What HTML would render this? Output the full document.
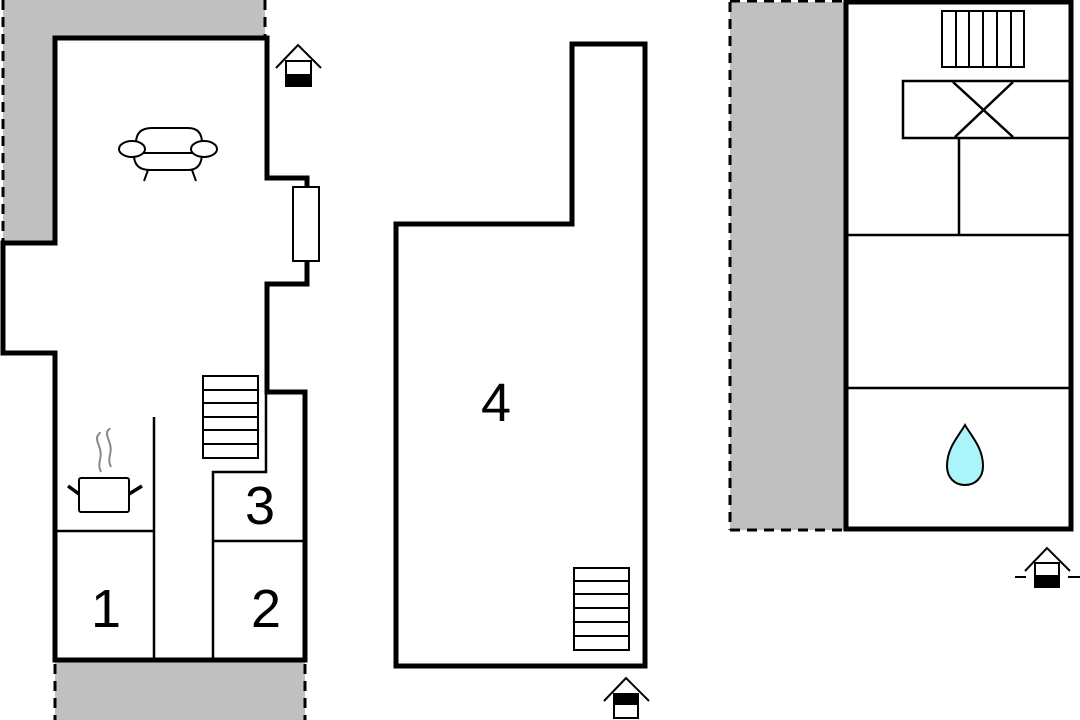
<!DOCTYPE html>
<html><head><meta charset="utf-8"><style>html,body{margin:0;padding:0;background:#fff;}svg{display:block;}</style></head>
<body>
<svg width="1080" height="720" viewBox="0 0 1080 720" xmlns="http://www.w3.org/2000/svg" font-family="Liberation Sans, sans-serif">
<rect width="1080" height="720" fill="#fff"/>
<!-- left building grey -->
<path d="M3 0 H265 V38 H55 V243 H3 Z" fill="#c0c0c0"/>
<line x1="3" y1="0" x2="3" y2="243" stroke="#000" stroke-width="3" stroke-dasharray="10,7"/>
<line x1="265" y1="0" x2="265" y2="36" stroke="#000" stroke-width="3" stroke-dasharray="10,7"/>
<rect x="55" y="662" width="250" height="58" fill="#c0c0c0"/>
<line x1="55" y1="664" x2="55" y2="720" stroke="#000" stroke-width="3" stroke-dasharray="10,7"/>
<line x1="305" y1="664" x2="305" y2="720" stroke="#000" stroke-width="3" stroke-dasharray="10,7"/>
<!-- left outline -->
<path d="M55 38 H267 V178 H307 V284 H267 V392 H305 V660 H55 V353 H3 V243 H55 Z" fill="none" stroke="#000" stroke-width="5" stroke-linejoin="miter"/>
<rect x="293" y="187" width="26" height="74" fill="#fff" stroke="#000" stroke-width="2"/>
<!-- interior walls -->
<g stroke="#000" stroke-width="2.5" fill="none">
<line x1="154" y1="417" x2="154" y2="660"/>
<line x1="55" y1="531" x2="154" y2="531"/>
<polyline points="266,392 266,472 213,472 213,660"/>
<line x1="213" y1="541" x2="305" y2="541"/>
</g>
<!-- stairs left -->
<g stroke="#000" stroke-width="2" fill="#fff">
<rect x="203" y="376" width="55" height="82"/>
<line x1="203" y1="390" x2="258" y2="390"/><line x1="203" y1="403" x2="258" y2="403"/><line x1="203" y1="417" x2="258" y2="417"/><line x1="203" y1="430" x2="258" y2="430"/><line x1="203" y1="444" x2="258" y2="444"/>
</g>
<!-- pot -->
<g stroke="#000" fill="none">
<rect x="79" y="478" width="50" height="34" rx="2" stroke-width="2" fill="#fff"/>
<line x1="68" y1="486" x2="79" y2="494" stroke-width="3.5"/>
<line x1="129" y1="494" x2="142" y2="486" stroke-width="3.5"/>
<path d="M101 472 C96 462,104 458,99 446 S100 435,100 432" stroke="#888" stroke-width="2"/>
<path d="M111 467 C106 457,114 453,109 441 S110 430,110 428" stroke="#888" stroke-width="2"/>
</g>
<!-- sofa -->
<g stroke="#000" stroke-width="2" fill="#fff">
<path d="M136 143 Q136 128 152 128 H188 Q202 128 202 143 V153 Q202 170 188 170 H150 Q134 170 134 155 Z"/>
<line x1="142" y1="153" x2="196" y2="153"/>
<ellipse cx="132" cy="149" rx="13" ry="8"/>
<ellipse cx="204" cy="149" rx="13" ry="8"/>
<line x1="148" y1="170" x2="144" y2="181"/>
<line x1="192" y1="170" x2="196" y2="181"/>
</g>
<!-- entrance top left -->
<g>
<polyline points="276,68 298,45 321,68" fill="none" stroke="#000" stroke-width="2"/>
<rect x="286" y="61" width="25" height="25" fill="#fff" stroke="#000" stroke-width="2"/>
<rect x="285" y="74" width="27" height="13" fill="#000"/>
</g>
<text x="106" y="627" font-size="54" text-anchor="middle">1</text>
<text x="266" y="627" font-size="54" text-anchor="middle">2</text>
<text x="260" y="524" font-size="54" text-anchor="middle">3</text>
<text x="496" y="421" font-size="54" text-anchor="middle">4</text>
<!-- middle building -->
<path d="M396 224 H572 V44 H645 V666 H396 Z" fill="none" stroke="#000" stroke-width="5"/>
<g stroke="#000" stroke-width="2" fill="#fff">
<rect x="574" y="568" width="55" height="82"/>
<line x1="574" y1="581" x2="629" y2="581"/><line x1="574" y1="594" x2="629" y2="594"/><line x1="574" y1="608" x2="629" y2="608"/><line x1="574" y1="622" x2="629" y2="622"/><line x1="574" y1="636" x2="629" y2="636"/>
</g>
<g>
<polyline points="604,701 626,678 649,701" fill="none" stroke="#000" stroke-width="2"/>
<rect x="614" y="694" width="24" height="24" fill="#fff" stroke="#000" stroke-width="2"/>
<rect x="613" y="693" width="26" height="12" fill="#000"/>
</g>
<!-- right building -->
<rect x="730" y="2" width="115" height="528" fill="#c0c0c0"/>
<line x1="730" y1="2" x2="730" y2="530" stroke="#000" stroke-width="3" stroke-dasharray="10,7"/>
<line x1="730" y1="1" x2="845" y2="1" stroke="#000" stroke-width="3" stroke-dasharray="10,7"/>
<line x1="730" y1="530" x2="845" y2="530" stroke="#000" stroke-width="3" stroke-dasharray="10,7"/>
<rect x="846" y="2" width="225" height="527" fill="#fff" stroke="#000" stroke-width="5"/>
<g stroke="#000" stroke-width="2" fill="none">
<rect x="942" y="11" width="82" height="56"/>
<line x1="956" y1="11" x2="956" y2="67"/><line x1="969" y1="11" x2="969" y2="67"/><line x1="983" y1="11" x2="983" y2="67"/><line x1="997" y1="11" x2="997" y2="67"/><line x1="1011" y1="11" x2="1011" y2="67"/>
</g>
<g stroke="#000" stroke-width="2.5" fill="none">
<rect x="903" y="81" width="167" height="57"/>
<line x1="953" y1="82" x2="1013" y2="137"/><line x1="1013" y1="82" x2="955" y2="137"/>
<line x1="959" y1="138" x2="959" y2="235"/>
<line x1="846" y1="235" x2="1071" y2="235"/>
<line x1="846" y1="388" x2="1071" y2="388"/>
</g>
<path d="M965 425 C958 437,947 448,947 466 C947 478,955 485,965 485 C975 485,983 478,983 466 C983 448,972 437,965 425 Z" fill="#aaf4fa" stroke="#000" stroke-width="2"/>
<g>
<polyline points="1025,571 1047,548 1070,571" fill="none" stroke="#000" stroke-width="2"/>
<rect x="1035" y="563" width="24" height="24" fill="#fff" stroke="#000" stroke-width="2"/>
<rect x="1034" y="575" width="26" height="13" fill="#000"/>
<line x1="1015" y1="577" x2="1026" y2="577" stroke="#000" stroke-width="2"/>
<line x1="1068" y1="577" x2="1080" y2="577" stroke="#000" stroke-width="2"/>
</g>
</svg>
</body></html>
